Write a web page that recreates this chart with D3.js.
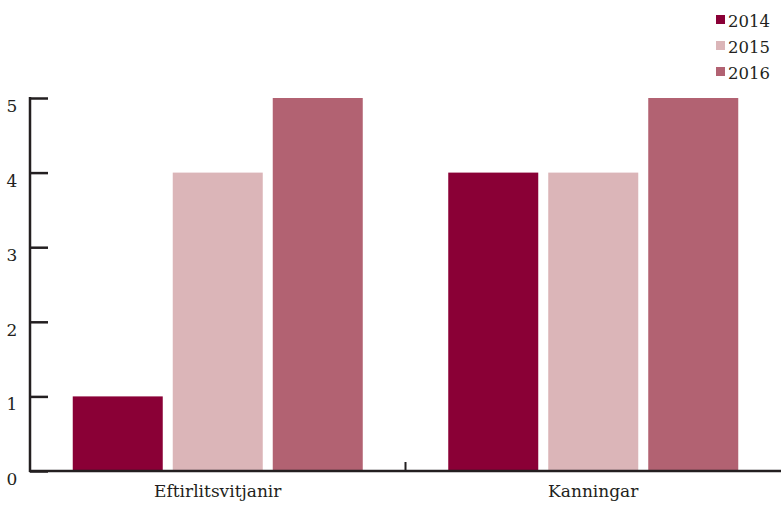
<!DOCTYPE html>
<html>
<head>
<meta charset="utf-8">
<script src="https://cdn.jsdelivr.net/npm/d3@7"></script>
<style>
  body { margin: 0; background: #fff; }
</style>
</head>
<body>
<div id="chart"></div>
<script>
const categories = ["Eftirlitsvitjanir", "Kanningar"];
const years = ["2014", "2015", "2016"];
const values2014 = [1, 4];
const values2015 = [4, 4];
const values2016 = [5, 5];
const yTicks = [0, 1, 2, 3, 4, 5];
const colors = ["#8a0036", "#dbb5b8", "#b26272"];

const width = 781;
const height = 505;
const margin = {top: 98, right: 0, bottom: 34, left: 30};
const fontFamily = "DejaVu Serif";
const ink = "#231f20";

const series = [values2014, values2015, values2016];

const svg = d3.select("#chart")
    .append("svg")
    .attr("width", width)
    .attr("height", height)
    .style("font-family", fontFamily);

const x0 = d3.scaleBand()
    .domain(categories)
    .range([margin.left, width - margin.right]);

const x1 = d3.scaleBand()
    .domain(years)
    .range([0, x0.bandwidth()])
    .paddingInner(0.1)
    .paddingOuter(0.4275);

const y = d3.scaleLinear()
    .domain([0, 5])
    .range([height - margin.bottom, margin.top]);

const color = d3.scaleOrdinal().domain(years).range(colors);

// bars
const groups = svg.selectAll("g.group")
    .data(categories)
    .enter().append("g")
    .attr("class", "group")
    .attr("transform", d => "translate(" + x0(d) + ",0)");

groups.selectAll("rect")
    .data((d, i) => years.map((yr, j) => ({year: yr, value: series[j][i]})))
    .enter().append("rect")
    .attr("x", d => x1(d.year))
    .attr("width", x1.bandwidth())
    .attr("y", d => y(d.value))
    .attr("height", d => y(0) - y(d.value))
    .attr("fill", d => color(d.year));

// y axis
const yAxis = svg.append("g")
    .attr("transform", "translate(" + margin.left + ",0)")
    .call(d3.axisRight(y).tickValues(yTicks).tickSize(18).tickFormat(""));
yAxis.select(".domain").attr("d", "M0," + (y(5) - 1) + "V" + (y(0) + 1))
    .attr("stroke", ink).attr("stroke-width", 2.5);
yAxis.selectAll(".tick line").attr("stroke", ink).attr("stroke-width", 2.5);

// tick labels sit just under their tick
svg.append("g").selectAll("text")
    .data(yTicks)
    .enter().append("text")
    .attr("x", 12)
    .attr("y", d => y(d) + 14)
    .attr("text-anchor", "middle")
    .style("font-family", fontFamily)
    .attr("font-size", 17)
    .attr("fill", ink)
    .text(d => d);

// x axis
const xAxis = svg.append("g")
    .attr("transform", "translate(0," + y(0) + ")");
xAxis.append("line")
    .attr("x1", margin.left - 1)
    .attr("x2", width)
    .attr("stroke", ink)
    .attr("stroke-width", 2.5);
xAxis.selectAll("line.sep")
    .data(categories.slice(1))
    .enter().append("line")
    .attr("class", "sep")
    .attr("x1", d => x0(d))
    .attr("x2", d => x0(d))
    .attr("y1", 0)
    .attr("y2", -9)
    .attr("stroke", ink)
    .attr("stroke-width", 2);
xAxis.selectAll("text")
    .data(categories)
    .enter().append("text")
    .attr("x", d => x0(d) + x0.bandwidth() / 2)
    .attr("y", 26)
    .attr("text-anchor", "middle")
    .style("font-family", fontFamily)
    .attr("font-size", 17)
    .attr("fill", ink)
    .text(d => d);

// legend
const legend = svg.append("g")
    .attr("transform", "translate(716,0)");
const items = legend.selectAll("g")
    .data(years)
    .enter().append("g")
    .attr("transform", (d, i) => "translate(0," + (15 + i * 26) + ")");
items.append("rect")
    .attr("width", 9)
    .attr("height", 9)
    .attr("fill", d => color(d));
items.append("text")
    .attr("x", 12)
    .attr("y", 12)
    .style("font-family", fontFamily)
    .attr("font-size", 16.5)
    .attr("fill", ink)
    .text(d => d);
</script>
</body>
</html>
